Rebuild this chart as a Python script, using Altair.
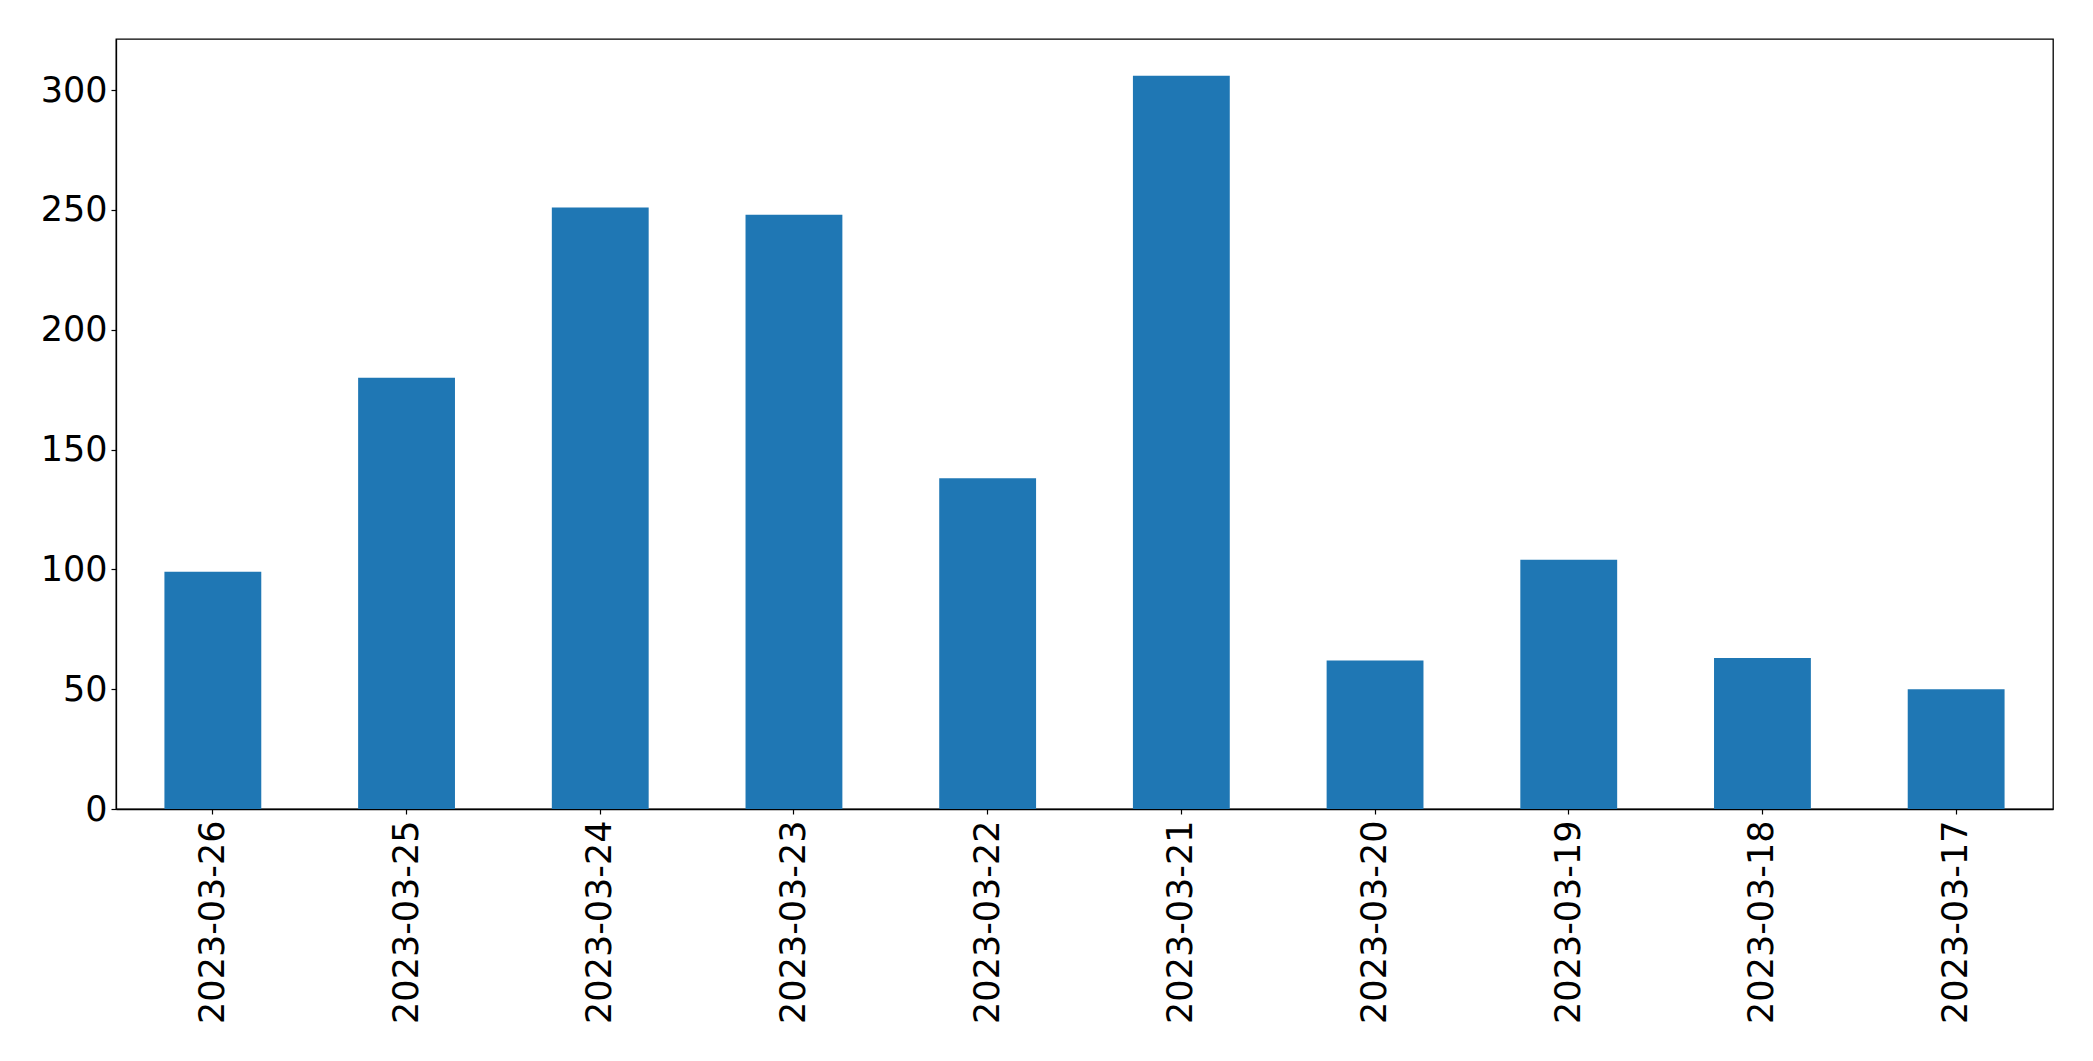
import altair as alt
import pandas as pd

dates = ["2023-03-26", "2023-03-25", "2023-03-24", "2023-03-23", "2023-03-22",
         "2023-03-21", "2023-03-20", "2023-03-19", "2023-03-18", "2023-03-17"]
counts = [99, 180, 251, 248, 138, 306, 62, 104, 63, 50]
y_ticks = [0, 50, 100, 150, 200, 250, 300]

df = pd.DataFrame({"date": dates, "count": counts})

FONT = "DejaVu Sans"

chart = alt.Chart(df).mark_bar(color="#1f77b4").encode(
    x=alt.X("date:N", sort=dates,
            scale=alt.Scale(paddingInner=0.5, paddingOuter=0.25),
            axis=alt.Axis(title=None, labelAngle=270, labelFontSize=35,
                          labelFont=FONT, labelColor="black", labelLimit=0,
                          labelAlign="right", labelBaseline="middle",
                          labelPadding=6, tickSize=5, tickColor="black",
                          tickWidth=1.2, domainColor="black", domainWidth=1.3,
                          grid=False)),
    y=alt.Y("count:Q",
            scale=alt.Scale(domain=[0, 321.3], nice=False, zero=True),
            axis=alt.Axis(title=None, values=y_ticks, labelFontSize=35,
                          labelFont=FONT, labelColor="black", labelPadding=4,
                          tickSize=5, tickColor="black", tickWidth=1.2,
                          domainColor="black", domainWidth=1.3, grid=False)),
).properties(
    width=1937,
    height=770,
    autosize=alt.AutoSizeParams(type="none"),
    padding={"left": 108, "top": 31, "right": 20, "bottom": 240},
).configure(
    background="white"
).configure_view(
    stroke="black", strokeWidth=1.3
)

chart.save("out.html", embed_options={"renderer": "svg", "actions": False})
